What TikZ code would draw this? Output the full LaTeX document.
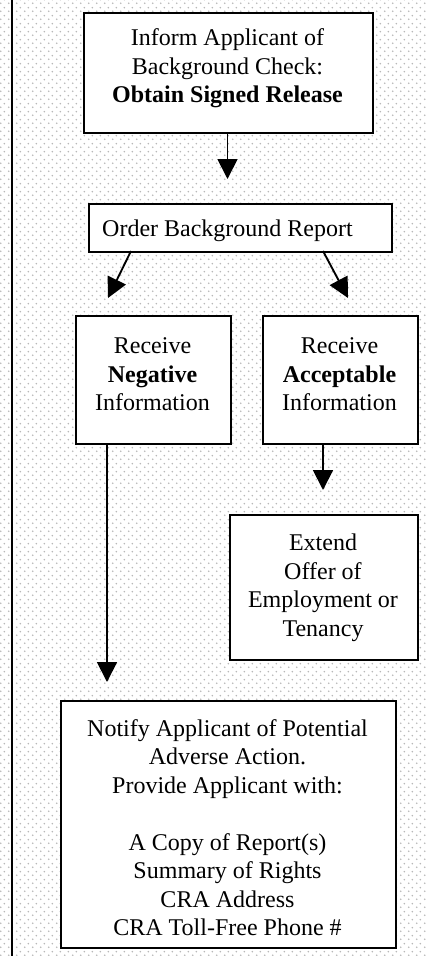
\documentclass[tikz,border=0pt]{standalone}
\usepackage{fontspec}
\setmainfont{Liberation Serif}
\usetikzlibrary{arrows.meta,patterns.meta}
\tikzdeclarepattern{
  name=bgdots,
  type=uncolored,
  bounding box={(0pt,0pt) and (6pt,6pt)},
  tile size={(6pt,6pt)},
  code={
    \fill (1.5pt,1.5pt) circle (0.75pt);
    \fill (4.5pt,4.5pt) circle (0.75pt);
  }
}
\begin{document}
\begin{tikzpicture}[x=0.75pt,y=-0.75pt,
  box/.style={draw=black,fill=white,line width=1.4pt,inner sep=0pt,anchor=north west},
  txt/.style={font=\fontsize{18pt}{21.375pt}\selectfont,align=center,inner sep=0pt,anchor=north},
  arr/.style={line width=1.4pt,-{Triangle[length=15pt,width=15pt]}}]
\useasboundingbox (0,0) rectangle (427,956);
\fill[white] (0,0) rectangle (427,956);
\fill[pattern=bgdots,pattern color=black!28] (0,0) rectangle (427,956);
\draw[line width=0.9pt] (12,0) -- (12,956);

\node[box,minimum width=216.75pt,minimum height=90pt] (b1) at (83,12) {};
\node[txt] (t1) at (227.5,28.6) {Inform Applicant of\\Background Check:\\\textbf{Obtain Signed Release}};

\node[box,minimum width=227.25pt,minimum height=36pt] (b2) at (88,203) {};
\node[txt] (t2) at (227.5,219.6) {Order Background Report};

\node[box,minimum width=116.25pt,minimum height=96pt] (b3) at (75,315) {};
\node[txt] (t3) at (152.5,337.6) {Receive\\\textbf{Negative}\\Information};

\node[box,minimum width=116.25pt,minimum height=96pt] (b4) at (262,315) {};
\node[txt] (t4) at (339.5,337.6) {Receive\\\textbf{Acceptable}\\Information};

\node[box,minimum width=141pt,minimum height=108.75pt] (b5) at (229,514) {};
\node[txt] (t5) at (323,533.6) {Extend\\Offer of\\Employment or\\Tenancy};

\node[box,minimum width=251.25pt,minimum height=185.25pt] (b6) at (60,700) {};
\node[txt] (t6) at (227.5,719.1) {Notify Applicant of Potential\\Adverse Action.\\Provide Applicant with:\\[21.375pt]A Copy of Report(s)\\Summary of Rights\\CRA Address\\CRA Toll-Free Phone \#};

\coordinate (a1s) at (227.5,132);
\coordinate (a1e) at (227.5,179);
\coordinate (a2s) at (131,251);
\coordinate (a2e) at (108,298);
\coordinate (a3s) at (323,251);
\coordinate (a3e) at (348,298);
\coordinate (a4s) at (323,443);
\coordinate (a4e) at (323,490);
\coordinate (a5s) at (107,443);
\coordinate (a5e) at (107,682);

\draw[arr] (a1s) -- (a1e);
\draw[arr] (a2s) -- (a2e);
\draw[arr] (a3s) -- (a3e);
\draw[arr] (a4s) -- (a4e);
\draw[arr] (a5s) -- (a5e);
\end{tikzpicture}
\end{document}
